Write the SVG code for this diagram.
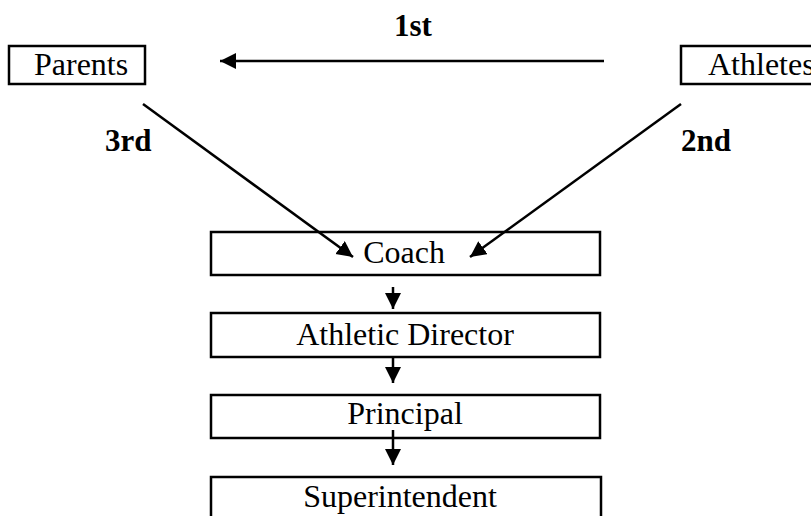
<svg xmlns="http://www.w3.org/2000/svg" width="811" height="516" viewBox="0 0 811 516">
<style>
.box{fill:#fff;stroke:#000;stroke-width:2.5}
.t{font-family:"Liberation Serif","Times New Roman",serif;font-size:32px;fill:#000}
.b{font-family:"Liberation Serif","Times New Roman",serif;font-size:31px;font-weight:bold;fill:#000}
.c{stroke:#000;stroke-width:2.5;fill:none;marker-end:url(#ah)}
</style>
<defs>
<marker id="ah" markerUnits="userSpaceOnUse" markerWidth="18" markerHeight="18" refX="16" refY="8" orient="auto">
<path d="M0,0 L16,8 L0,16 z" fill="#000"/>
</marker>
</defs>
<rect width="811" height="516" fill="#fff"/>
<g id="parents"><rect class="box" x="9" y="46" width="136" height="38"/><text class="t" x="34" y="75">Parents</text></g>
<g id="athletes"><rect class="box" x="681" y="46" width="150" height="38"/><text class="t" x="708" y="75">Athletes</text></g>
<g id="coach"><rect class="box" x="211" y="232" width="389" height="43"/><text class="t" x="404" y="263" text-anchor="middle">Coach</text></g>
<g id="ad"><rect class="box" x="211" y="313" width="389" height="44"/><text class="t" x="405" y="345" text-anchor="middle">Athletic Director</text></g>
<g id="principal"><rect class="box" x="211" y="395" width="389" height="43"/><text class="t" x="405" y="424" text-anchor="middle">Principal</text></g>
<g id="superintendent"><rect class="box" x="211" y="477" width="390" height="50"/><text class="t" x="400" y="507" text-anchor="middle">Superintendent</text></g>
<g id="connectors">
<line class="c" x1="604" y1="61" x2="220" y2="61"/>
<line class="c" x1="143" y1="104" x2="353" y2="257"/>
<line class="c" x1="681" y1="104" x2="470" y2="257"/>
<line class="c" x1="393" y1="287" x2="393" y2="309"/>
<line class="c" x1="393" y1="357" x2="393" y2="383"/>
<line class="c" x1="393" y1="430" x2="393" y2="465"/>
</g>
<g id="labels">
<text class="b" x="394" y="36">1st</text>
<text class="b" x="105" y="151">3rd</text>
<text class="b" x="681" y="151">2nd</text>
</g>
</svg>
